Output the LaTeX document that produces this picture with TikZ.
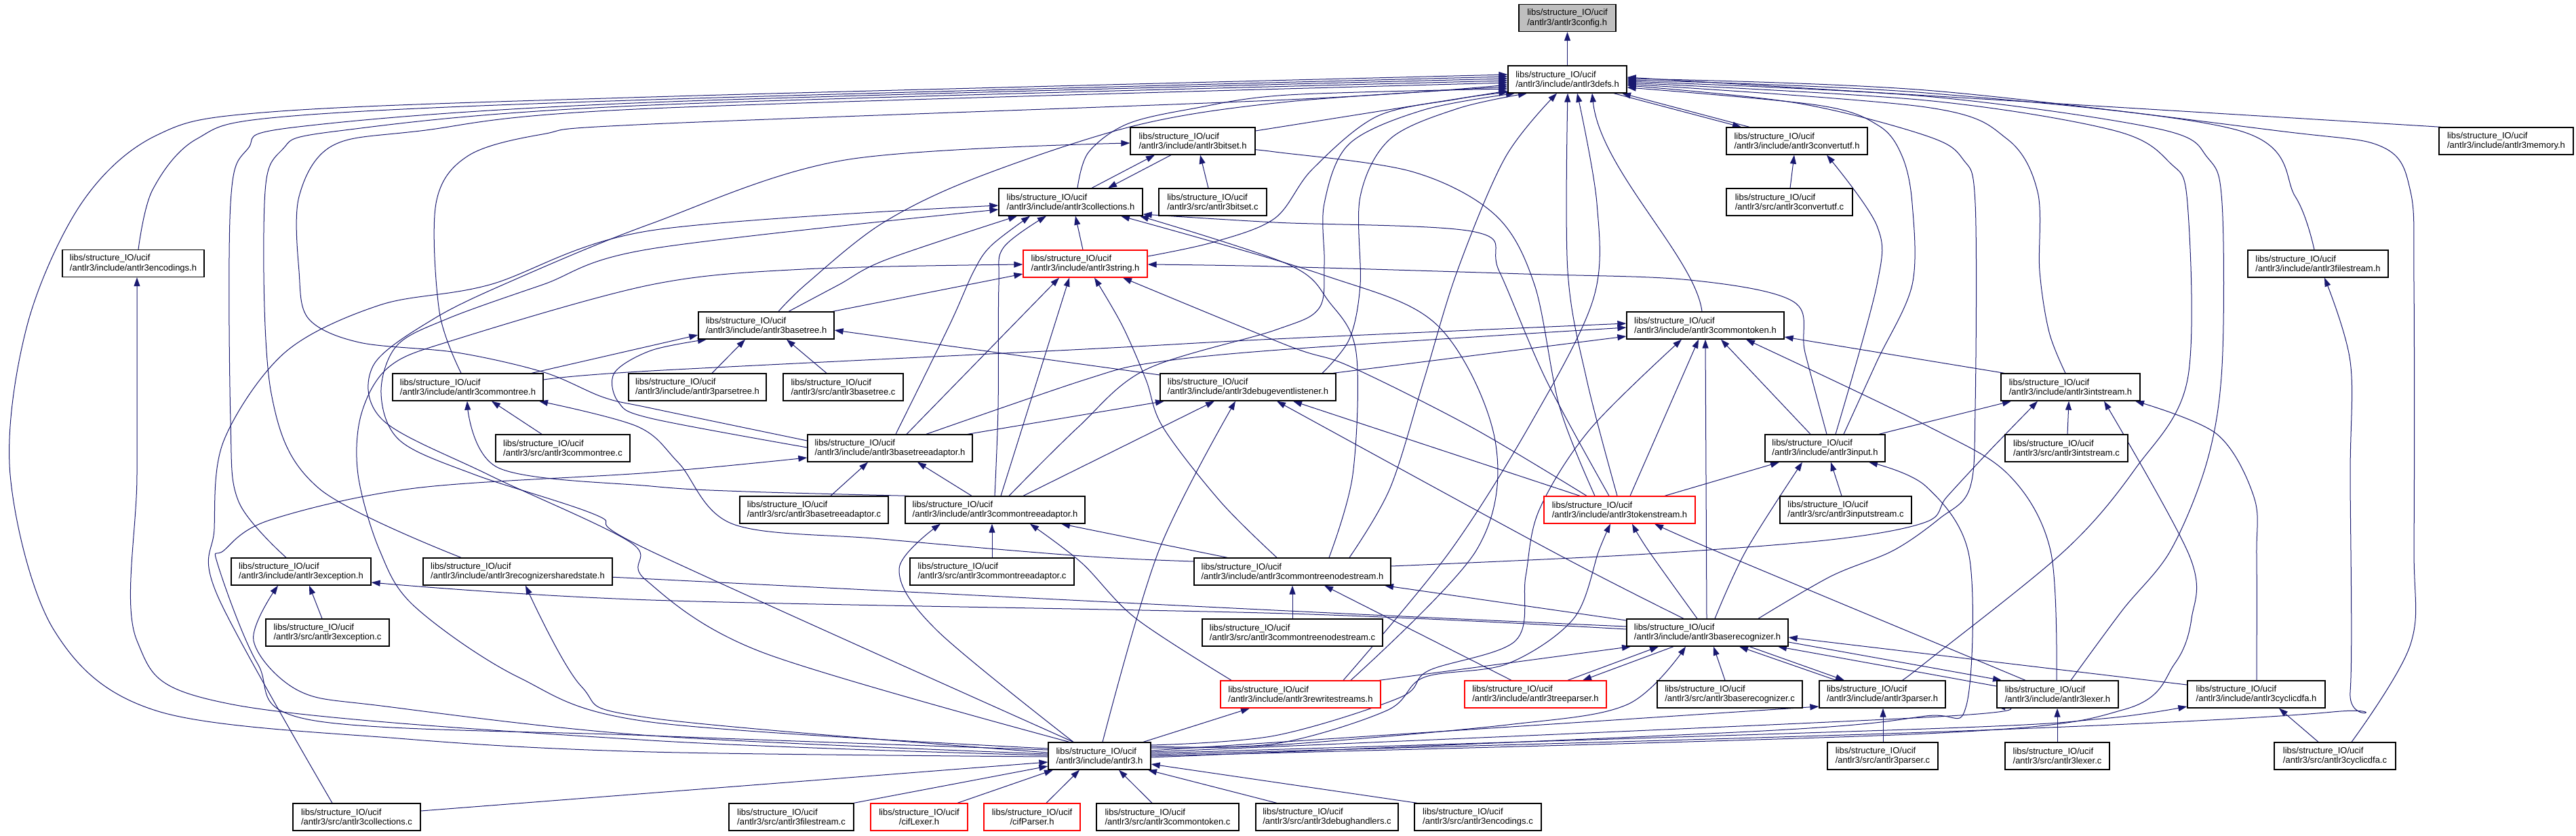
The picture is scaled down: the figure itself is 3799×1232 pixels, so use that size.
\documentclass[tikz,border=0pt]{standalone}
\usepackage{fontspec}
\setmainfont{Liberation Sans}
\usetikzlibrary{arrows.meta}
\pgfdeclarelayer{bgl}
\pgfdeclarelayer{edges}
\pgfsetlayers{bgl,edges,main}
\definecolor{edgec}{HTML}{191970}
\definecolor{cfgfill}{HTML}{BFBFBF}
\newcommand\ucifp{libs/structure\_IO/ucif}
\begin{document}
\begin{tikzpicture}[x=1pt,y=1pt,
  nb/.style={draw=black, line width=1.3pt, fill=white, align=left, minimum height=40pt, inner sep=0pt, font=\fontsize{13pt}{14.3pt}\selectfont},
  rb/.style={nb, draw=red},
  e/.style={draw=edgec, line width=1pt, -{Triangle[length=13pt,width=9pt]}},
  sm/.style={smooth, tension=0.55}]
\begin{pgfonlayer}{bgl}
\fill[white] (0,0) rectangle (3799,-1232);
\end{pgfonlayer}
\useasboundingbox (0,0) rectangle (3799,-1232);
% ---------------- nodes
\node[nb, fill=cfgfill, minimum width=143pt] (config) at (2311.5,-26.5) {\ucifp\\/antlr3/antlr3config.h};
\node[nb, minimum width=175pt] (defs) at (2311.5,-117) {\ucifp\\/antlr3/include/antlr3defs.h};
\node[nb, minimum width=208pt] (convutfh) at (2650,-208) {\ucifp\\/antlr3/include/antlr3convertutf.h};
\node[nb, minimum width=186pt] (convutfc) at (2639,-298) {\ucifp\\/antlr3/src/antlr3convertutf.c};
\node[nb, minimum width=198pt] (memory) at (3696,-208) {\ucifp\\/antlr3/include/antlr3memory.h};
\node[nb, minimum width=207pt] (filestreamh) at (3418.5,-389) {\ucifp\\/antlr3/include/antlr3filestream.h};
\node[nb, minimum width=209pt] (encodingsh) at (196.5,-388.5) {\ucifp\\/antlr3/include/antlr3encodings.h};
\node[nb, minimum width=184pt] (bitseth) at (1759,-208) {\ucifp\\/antlr3/include/antlr3bitset.h};
\node[nb, minimum width=212pt] (collh) at (1579,-298) {\ucifp\\/antlr3/include/antlr3collections.h};
\node[nb, minimum width=159pt] (bitsetc) at (1788.5,-298) {\ucifp\\/antlr3/src/antlr3bitset.c};
\node[rb, minimum width=183pt] (stringh) at (1600.5,-389) {\ucifp\\/antlr3/include/antlr3string.h};
\node[nb, minimum width=200pt] (basetreeh) at (1130,-480) {\ucifp\\/antlr3/include/antlr3basetree.h};
\node[nb, minimum width=222pt] (commontreeh) at (690,-571) {\ucifp\\/antlr3/include/antlr3commontree.h};
\node[nb, minimum width=198pt] (commontreec) at (830,-661) {\ucifp\\/antlr3/src/antlr3commontree.c};
\node[nb, minimum width=203pt] (parsetreeh) at (1028.5,-571) {\ucifp\\/antlr3/include/antlr3parsetree.h};
\node[nb, minimum width=177pt] (basetreec) at (1243.5,-571) {\ucifp\\/antlr3/src/antlr3basetree.c};
\node[nb, minimum width=259pt] (debugh) at (1840.5,-571) {\ucifp\\/antlr3/include/antlr3debugeventlistener.h};
\node[nb, minimum width=243pt] (btadaptorh) at (1312.5,-661) {\ucifp\\/antlr3/include/antlr3basetreeadaptor.h};
\node[nb, minimum width=219pt] (btadaptorc) at (1200.5,-752) {\ucifp\\/antlr3/src/antlr3basetreeadaptor.c};
\node[nb, minimum width=265pt] (ctadaptorh) at (1467.5,-752) {\ucifp\\/antlr3/include/antlr3commontreeadaptor.h};
\node[nb, minimum width=232pt] (commontokenh) at (2515,-480) {\ucifp\\/antlr3/include/antlr3commontoken.h};
\node[nb, minimum width=177pt] (inputh) at (2691.5,-661) {\ucifp\\/antlr3/include/antlr3input.h};
\node[rb, minimum width=223pt] (tokenstreamh) at (2388.5,-752) {\ucifp\\/antlr3/include/antlr3tokenstream.h};
\node[nb, minimum width=194pt] (inputstreamc) at (2722,-752) {\ucifp\\/antlr3/src/antlr3inputstream.c};
\node[nb, minimum width=205pt] (intstreamh) at (3053.5,-571) {\ucifp\\/antlr3/include/antlr3intstream.h};
\node[nb, minimum width=181pt] (intstreamc) at (3047.5,-661) {\ucifp\\/antlr3/src/antlr3intstream.c};
\node[nb, minimum width=206pt] (exceptionh) at (444,-843) {\ucifp\\/antlr3/include/antlr3exception.h};
\node[nb, minimum width=279pt] (rssh) at (763.5,-843) {\ucifp\\/antlr3/include/antlr3recognizersharedstate.h};
\node[nb, minimum width=182pt] (exceptionc) at (483,-933) {\ucifp\\/antlr3/src/antlr3exception.c};
\node[nb, minimum width=188pt] (collc) at (526,-1205) {\ucifp\\/antlr3/src/antlr3collections.c};
\node[nb, minimum width=242pt] (ctadaptorc) at (1463,-843) {\ucifp\\/antlr3/src/antlr3commontreeadaptor.c};
\node[nb, minimum width=290pt] (ctnsh) at (1906,-843) {\ucifp\\/antlr3/include/antlr3commontreenodestream.h};
\node[nb, minimum width=266pt] (ctnsc) at (1906,-933) {\ucifp\\/antlr3/src/antlr3commontreenodestream.c};
\node[rb, minimum width=236pt] (rewriteh) at (1918,-1024) {\ucifp\\/antlr3/include/antlr3rewritestreams.h};
\node[nb, minimum width=151pt] (antlrh) at (1621.5,-1115) {\ucifp\\/antlr3/include/antlr3.h};
\node[nb, minimum width=184pt] (filestreamc) at (1167,-1205) {\ucifp\\/antlr3/src/antlr3filestream.c};
\node[rb, align=center, minimum width=143pt] (ciflexer) at (1355.5,-1205) {\ucifp\\/cifLexer.h};
\node[rb, align=center, minimum width=142pt] (cifparser) at (1522,-1205) {\ucifp\\/cifParser.h};
\node[nb, minimum width=210pt] (commontokenc) at (1722,-1205) {\ucifp\\/antlr3/src/antlr3commontoken.c};
\node[nb, minimum width=210pt] (debughandlersc) at (1957,-1205) {\ucifp\\/antlr3/src/antlr3debughandlers.c};
\node[nb, minimum width=187pt] (encodingsc) at (2179.5,-1205) {\ucifp\\/antlr3/src/antlr3encodings.c};
\node[nb, minimum width=238pt] (baserech) at (2518,-933) {\ucifp\\/antlr3/include/antlr3baserecognizer.h};
\node[rb, minimum width=209pt] (treeparserh) at (2264.5,-1024) {\ucifp\\/antlr3/include/antlr3treeparser.h};
\node[nb, minimum width=214pt] (baserecc) at (2551,-1024) {\ucifp\\/antlr3/src/antlr3baserecognizer.c};
\node[nb, minimum width=186pt] (parserh) at (2776,-1024) {\ucifp\\/antlr3/include/antlr3parser.h};
\node[nb, minimum width=163pt] (parserc) at (2776.5,-1115) {\ucifp\\/antlr3/src/antlr3parser.c};
\node[nb, minimum width=179pt] (lexerh) at (3034.5,-1024) {\ucifp\\/antlr3/include/antlr3lexer.h};
\node[nb, minimum width=154pt] (lexerc) at (3034,-1115) {\ucifp\\/antlr3/src/antlr3lexer.c};
\node[nb, minimum width=203pt] (cyclicdfah) at (3327.5,-1024) {\ucifp\\/antlr3/include/antlr3cyclicdfa.h};
\node[nb, minimum width=179pt] (cyclicdfac) at (3443.5,-1115) {\ucifp\\/antlr3/src/antlr3cyclicdfa.c};
% ---------------- edges
\begin{pgfonlayer}{edges}
% config / defs / convertutf
\draw[e] (defs.north) -- (config.south);
\draw[e] (defs.south -| 2380,0) -- (convutfh.north -| 2568,0);
\draw[e] (convutfh.north -| 2580,0) -- (defs.south -| 2392,0);
\draw[e] (convutfc.north -| 2640,0) -- (convutfh.south -| 2646,0);
% into defs from the right
\draw[e] (memory.north -| 3600,0) -- (defs.east |- 0,-114);
\draw[e] plot[sm] coordinates {(filestreamh.north -| 3413,0) (3385,-290) (3300,-192) (2840,-137) (defs.east |- 0,-118)};
\draw[e] plot[sm] coordinates {(cyclicdfac.north -| 3468,0) (3555,-950) (3560,-800) (3560,-420) (3555,-283) (3514,-217) (3360,-193) (2840,-133) (defs.east |- 0,-116)};
\draw[e] plot[sm] coordinates {(lexerh.north -| 3054,0) (3130,-900) (3201,-812) (3255,-680) (3277,-540) (3277,-300) (3256,-233) (3183,-190) (2840,-142) (defs.east |- 0,-120)};
\draw[e] plot[sm] coordinates {(parserh.north -| 2805,0) (2840,-977) (3045,-812) (3150,-690) (3226,-560) (3226,-300) (3200,-240) (3116,-192) (2840,-148) (defs.east |- 0,-122)};
\draw[e] plot[sm] coordinates {(intstreamh.north -| 3046,0) (3022,-490) (3008,-400) (3005,-283) (2960,-205) (2840,-158) (defs.east |- 0,-124)};
\draw[e] plot[sm] coordinates {(baserech.north -| 2593,0) (2700,-850) (2792,-812) (2860,-765) (2905,-720) (2913,-600) (2913,-300) (2895,-235) (2840,-200) (2650,-152) (defs.east |- 0,-126)};
\draw[e] plot[sm] coordinates {(inputh.north -| 2719,0) (2768,-533) (2820,-420) (2820,-300) (2805,-230) (2770,-185) (2680,-155) (defs.east |- 0,-129)};
% into defs from the left
\draw[e] plot[sm] coordinates {(antlrh.west |- 0,-1116) (960,-1109) (600,-1090) (233,-1049) (80,-930) (15,-700) (40,-480) (120,-300) (230,-200) (400,-165) (960,-143) (defs.west |- 0,-110)};
\draw[e] plot[sm] coordinates {(encodingsh.north -| 204,0) (225,-280) (290,-205) (420,-172) (960,-147) (defs.west |- 0,-113)};
\draw[e] plot[sm] coordinates {(exceptionh.north -| 422,0) (352,-740) (340,-620) (340,-300) (365,-220) (440,-187) (960,-151) (defs.west |- 0,-116)};
\draw[e] plot[sm] coordinates {(rssh.north -| 680,0) (470,-720) (400,-580) (390,-300) (415,-222) (500,-193) (960,-155) (defs.west |- 0,-119)};
\draw[e] plot[sm] coordinates {(btadaptorh.west |- 0,-650) (960,-602) (890,-586) (802,-549) (674,-520) (530,-505) (455,-470) (441,-400) (441,-290) (490,-215) (620,-193) (960,-160) (defs.west |- 0,-122)};
\draw[e] plot[sm] coordinates {(commontreeh.north -| 680,0) (648,-460) (643,-300) (690,-230) (800,-198) (960,-183) (1900,-147) (defs.west |- 0,-125)};
\draw[e] plot[sm] coordinates {(basetreeh.north -| 1148,0) (1190,-418) (1300,-330) (1440,-262) (1675,-185) (1900,-150) (defs.west |- 0,-128)};
\draw[e] plot[sm] coordinates {(collh.north -| 1589,0) (1605,-225) (1662,-183) (1760,-160) (1900,-140) (defs.west |- 0,-131)};
\draw[e] (bitseth.east |- 0,-193) -- (defs.west |- 0,-134);
\draw[e] plot[sm] coordinates {(stringh.east |- 0,-378) (1790,-357) (1880,-322) (1935,-250) (2030,-172) (2150,-146) (defs.west |- 0,-136)};
\draw[e] plot[sm] coordinates {(ctadaptorh.north -| 1488,0) (1590,-630) (1690,-545) (1880,-487) (1945,-455) (1953,-390) (1953,-300) (1990,-212) (2100,-162) (defs.south -| 2234,0)};
\draw[e] plot[sm] coordinates {(debugh.north -| 1950,0) (1990,-500) (2006,-420) (2006,-290) (2050,-205) (2150,-160) (defs.south -| 2252,0)};
\draw[e] plot[sm] coordinates {(ctnsh.north -| 1990,0) (2050,-720) (2100,-560) (2149,-400) (2220,-232) (defs.south -| 2296,0)};
\draw[e] plot[sm] coordinates {(tokenstreamh.north -| 2385,0) (2340,-560) (2312,-400) (defs.south -| 2312,0)};
\draw[e] plot[sm] coordinates {(rewriteh.north -| 1981,0) (2137,-815) (2260,-620) (2350,-440) (2355,-300) (defs.south -| 2326,0)};
\draw[e] (commontokenh.north -| 2510,0) .. controls (2500,-380) and (2360,-250) .. (defs.south -| 2348,0);
% bitset / collections / string
\draw[e] (collh.north -| 1610,0) -- (bitseth.south -| 1703,0);
\draw[e] (bitseth.south -| 1727,0) -- (collh.north -| 1634,0);
\draw[e] (bitsetc.north -| 1782,0) -- (bitseth.south -| 1770,0);
\draw[e] (stringh.north -| 1597,0) -- (collh.south -| 1586,0);
\draw[e] plot[sm] coordinates {(basetreeh.north -| 1163,0) (1237,-420) (1307,-383) (collh.south -| 1500,0)};
\draw[e] (basetreeh.north -| 1228,0) -- (stringh.west |- 0,-404);
\draw[e] plot[sm] coordinates {(btadaptorh.north -| 1321,0) (1400,-480) (1436,-400) (1462,-362) (collh.south -| 1519,0)};
\draw[e] (btadaptorh.north -| 1337,0) -- (stringh.south -| 1562,0);
\draw[e] plot[sm] coordinates {(ctadaptorh.north -| 1467,0) (1472,-600) (1473,-420) (1480,-365) (collh.south -| 1543,0)};
\draw[e] (ctadaptorh.north -| 1476,0) -- (stringh.south -| 1577,0);
\draw[e] plot[sm] coordinates {(ctnsh.north -| 1883,0) (1800,-740) (1715,-630) (1690,-560) (1655,-480) (stringh.south -| 1614,0)};
\draw[e] plot[sm] coordinates {(ctnsh.north -| 1960,0) (1995,-700) (2000,-520) (1960,-445) (1900,-390) (collh.south -| 1681,0)};
\draw[e] plot[sm] coordinates {(rewriteh.north -| 1992,0) (2177,-812) (2205,-650) (2120,-480) (1950,-405) (collh.south -| 1653,0)};
\draw[e] plot[sm] coordinates {(tokenstreamh.north -| 2373,0) (2280,-560) (2211,-400) (2175,-342) (1880,-328) (collh.east |- 0,-316)};
\draw[e] plot[sm] coordinates {(tokenstreamh.north -| 2352,0) (2300,-600) (2263,-420) (2205,-317) (2082,-253) (1880,-224) (bitseth.east |- 0,-222)};
\draw[e] plot[sm] coordinates {(tokenstreamh.north -| 2340,0) (2170,-630) (1990,-540) (1900,-510) (stringh.south -| 1656,0)};
\draw[e] plot[sm] coordinates {(inputh.north -| 2694,0) (2662,-520) (2645,-445) (2492,-413) (2247,-404) (1880,-393) (stringh.east |- 0,-390)};
\draw[e] plot[sm] coordinates {(inputh.north -| 2707,0) (2768,-420) (2768,-333) (convutfh.south -| 2694,0)};
% tokenstream / input / intstream / commontoken
\draw[e] (tokenstreamh.north -| 2404,0) -- (commontokenh.south -| 2505,0);
\draw[e] (tokenstreamh.north -| 2455,0) -- (inputh.south -| 2624,0);
\draw[e] (tokenstreamh.north -| 2330,0) -- (debugh.south -| 1907,0);
\draw[e] (inputh.north -| 2670,0) -- (commontokenh.south -| 2538,0);
\draw[e] (inputh.north -| 2771,0) -- (intstreamh.south -| 2966,0);
\draw[e] (inputstreamc.north -| 2716,0) -- (inputh.south -| 2700,0);
\draw[e] (intstreamc.north -| 3049,0) -- (intstreamh.south -| 3051,0);
\draw[e] (intstreamh.north -| 2956,0) -- (commontokenh.east |- 0,-497);
\draw[e] plot[sm] coordinates {(commontreeh.east |- 0,-560) (960,-547) (1600,-515) (1880,-500) (commontokenh.west |- 0,-477)};
\draw[e] plot[sm] coordinates {(btadaptorh.north -| 1366,0) (1600,-560) (1700,-535) (1900,-515) (commontokenh.west |- 0,-483)};
\draw[e] (debugh.north -| 1966,0) -- (commontokenh.west |- 0,-496);
\draw[e] (debugh.west |- 0,-553) -- (basetreeh.east |- 0,-487);
\draw[e] (btadaptorh.north -| 1427,0) -- (debugh.south -| 1717,0);
\draw[e] (ctadaptorh.north -| 1509,0) -- (debugh.south -| 1791,0);
\draw[e] plot[sm] coordinates {(antlrh.north -| 1626,0) (1709,-812) (debugh.south -| 1822,0)};
\draw[e] plot[sm] coordinates {(baserech.north -| 2483,0) (2287,-812) (debugh.south -| 1883,0)};
% basetree / commontree
\draw[e] (commontreeh.north -| 784,0) -- (basetreeh.west |- 0,-494);
\draw[e] (parsetreeh.north -| 1050,0) -- (basetreeh.south -| 1099,0);
\draw[e] (basetreec.north -| 1219,0) -- (basetreeh.south -| 1160,0);
\draw[e] plot[sm] coordinates {(btadaptorh.west |- 0,-660) (960,-617) (912,-593) (906,-550) (960,-517) (basetreeh.south -| 1042,0)};
\draw[e] (commontreec.north -| 799,0) -- (commontreeh.south -| 725,0);
\draw[e] plot[sm] coordinates {(ctadaptorh.north -| 1340,0) (1100,-725) (960,-717) (735,-690) (commontreeh.south -| 689,0)};
\draw[e] plot[sm] coordinates {(ctnsh.west |- 0,-828) (1595,-820) (1300,-795) (1081,-773) (1001,-683) (940,-629) (commontreeh.south -| 795,0)};
% adaptors
\draw[e] (btadaptorc.north -| 1225,0) -- (btadaptorh.south -| 1280,0);
\draw[e] (ctadaptorh.north -| 1433,0) -- (btadaptorh.south -| 1353,0);
\draw[e] (ctadaptorc.north -| 1463,0) -- (ctadaptorh.south -| 1463,0);
\draw[e] plot[sm] coordinates {(rewriteh.north -| 1816,0) (1675,-912) (1595,-830) (ctadaptorh.south -| 1519,0)};
\draw[e] (ctnsh.north -| 1810,0) -- (ctadaptorh.south -| 1565,0);
\draw[e] plot[sm] coordinates {(antlrh.north -| 1583,0) (1381,-929) (1326,-839) (ctadaptorh.south -| 1387,0)};
\draw[e] plot[sm] coordinates {(antlrh.west |- 0,-1106) (960,-1085) (459,-1062) (380,-979) (321,-832) (330,-812) (398,-767) (612,-720) (960,-697) (btadaptorh.west |- 0,-675)};
% treenodestream
\draw[e] (ctnsc.north) -- (ctnsh.south);
\draw[e] (treeparserh.north -| 2229,0) -- (ctnsh.south -| 1953,0);
\draw[e] (baserech.west |- 0,-915) -- (ctnsh.south -| 2042,0);
\draw[e] plot[sm] coordinates {(ctnsh.east |- 0,-835) (2413,-818) (2700,-796) (2840,-770) (2871,-733) (2932,-667) (intstreamh.south -| 3005,0)};
% baserecognizer
\draw[e] plot[sm] coordinates {(baserech.west |- 0,-928) (1900,-905) (960,-885) (exceptionh.east |- 0,-859)};
\draw[e] plot[sm] coordinates {(baserech.west |- 0,-924) (1900,-901) (940,-853) (rssh.east |- 0,-852)};
\draw[e] plot[sm] coordinates {(baserech.north -| 2503,0) (2431,-812) (tokenstreamh.south -| 2407,0)};
\draw[e] (baserech.north -| 2517,0) -- (commontokenh.south -| 2515,0);
\draw[e] plot[sm] coordinates {(baserech.north -| 2529,0) (2575,-812) (inputh.south -| 2658,0)};
\draw[e] (rewriteh.north -| 2034,0) -- (baserech.south -| 2405,0);
\draw[e] (treeparserh.north -| 2312,0) -- (baserech.south -| 2446,0);
\draw[e] (baserech.south -| 2468,0) -- (treeparserh.north -| 2334,0);
\draw[e] (baserecc.north -| 2544,0) -- (baserech.south -| 2527,0);
\draw[e] (parserh.north -| 2708,0) -- (baserech.south -| 2565,0);
\draw[e] (baserech.south -| 2580,0) -- (parserh.north -| 2720,0);
\draw[e] (lexerh.west |- 0,-1012) -- (baserech.south -| 2622,0);
\draw[e] (baserech.east |- 0,-947) -- (lexerh.north -| 2952,0);
\draw[e] (cyclicdfah.west |- 0,-1010) -- (baserech.east |- 0,-940);
% lexer / parser / cyclicdfa
\draw[e] plot[sm] coordinates {(lexerh.north -| 3033,0) (3024,-812) (2962,-700) (2840,-627) (commontokenh.south -| 2575,0)};
\draw[e] plot[sm] coordinates {(lexerh.north -| 2987,0) (2840,-942) (2529,-812) (tokenstreamh.south -| 2440,0)};
\draw[e] (parserc.north -| 2777,0) -- (parserh.south -| 2777,0);
\draw[e] (lexerc.north -| 3034,0) -- (lexerh.south -| 3034,0);
\draw[e] (cyclicdfac.north -| 3419,0) -- (cyclicdfah.south -| 3361,0);
\draw[e] plot[sm] coordinates {(cyclicdfah.north -| 3328,0) (3328,-820) (3324,-733) (3269,-640) (intstreamh.south -| 3149,0)};
% antlr3.h to the right
\draw[e] (antlrh.east |- 0,-1107) -- (parserh.west |- 0,-1042);
\draw[e] plot[sm] coordinates {(antlrh.east |- 0,-1109) (2840,-1058) (lexerh.west |- 0,-1042)};
\draw[e] plot[sm] coordinates {(antlrh.east |- 0,-1111) (2840,-1075) (3100,-1060) (cyclicdfah.west |- 0,-1042)};
\draw[e] plot[sm] coordinates {(antlrh.east |- 0,-1113) (2840,-1080) (3440,-1050) (3466,-1020) (3466,-700) (3466,-533) (filestreamh.south -| 3428,0)};
\draw[e] plot[sm] coordinates {(antlrh.east |- 0,-1115) (2840,-1082) (3134,-1046) (3207,-979) (3232,-912) (3229,-820) (intstreamh.south -| 3103,0)};
\draw[e] plot[sm] coordinates {(antlrh.east |- 0,-1117) (2600,-1078) (2840,-1056) (2900,-1040) (2904,-820) (2840,-717) (inputh.south -| 2756,0)};
\draw[e] plot[sm] coordinates {(antlrh.east |- 0,-1103) (1880,-1099) (2223,-1069) (2400,-1039) (baserech.south -| 2486,0)};
\draw[e] plot[sm] coordinates {(antlrh.east |- 0,-1101) (1880,-1097) (2045,-1048) (2100,-999) (2223,-979) (2321,-912) (2358,-812) (tokenstreamh.south -| 2375,0)};
\draw[e] plot[sm] coordinates {(antlrh.east |- 0,-1099) (1880,-1085) (2064,-1029) (2107,-989) (2235,-945) (2250,-850) (2270,-752) (2345,-633) (commontokenh.south -| 2480,0)};
\draw[e] (antlrh.north -| 1686,0) -- (rewriteh.south -| 1843,0);
% antlr3.h to the left
\draw[e] plot[sm] coordinates {(antlrh.west |- 0,-1114) (960,-1092) (343,-1039) (202,-945) (202,-700) (encodingsh.south -| 202,0)};
\draw[e] plot[sm] coordinates {(antlrh.west |- 0,-1112) (960,-1085) (570,-1042) (441,-1019) (374,-945) (exceptionh.south -| 410,0)};
\draw[e] plot[sm] coordinates {(antlrh.west |- 0,-1110) (960,-1059) (857,-1012) (rssh.south -| 775,0)};
\draw[e] plot[sm] coordinates {(antlrh.west |- 0,-1104) (960,-1065) (765,-999) (612,-895) (560,-812) (528,-700) (533,-610) (575,-540) (674,-500) (960,-420) (1185,-397) (stringh.west |- 0,-390)};
\draw[e] plot[sm] coordinates {(antlrh.north -| 1577,0) (1124,-962) (952,-855) (930,-800) (720,-700) (565,-620) (550,-540) (640,-470) (760,-412) (960,-330) (1246,-236) (bitseth.west |- 0,-211)};
\draw[e] plot[sm] coordinates {(antlrh.north -| 1583,0) (958,-812) (880,-760) (700,-700) (590,-650) (562,-580) (585,-510) (660,-470) (800,-420) (960,-367) (collh.west |- 0,-309)};
\draw[e] plot[sm] coordinates {(collc.north -| 490,0) (321,-879) (316,-780) (330,-650) (420,-520) (560,-450) (722,-420) (960,-340) (collh.west |- 0,-303)};
% leaves into antlr3.h
\draw[e] (collc.east |- 0,-1196) -- (antlrh.west |- 0,-1124);
\draw[e] (filestreamc.north -| 1259,0) -- (antlrh.west |- 0,-1130);
\draw[e] (ciflexer.north -| 1412,0) -- (antlrh.south -| 1553,0);
\draw[e] (cifparser.north -| 1543,0) -- (antlrh.south -| 1592,0);
\draw[e] (commontokenc.north -| 1699,0) -- (antlrh.south -| 1650,0);
\draw[e] (debughandlersc.north -| 1883,0) -- (antlrh.south -| 1693,0);
\draw[e] (encodingsc.north -| 2090,0) -- (antlrh.east |- 0,-1127);
\draw[e] (exceptionc.north -| 475,0) -- (exceptionh.south -| 456,0);
\end{pgfonlayer}
\end{tikzpicture}
\end{document}
